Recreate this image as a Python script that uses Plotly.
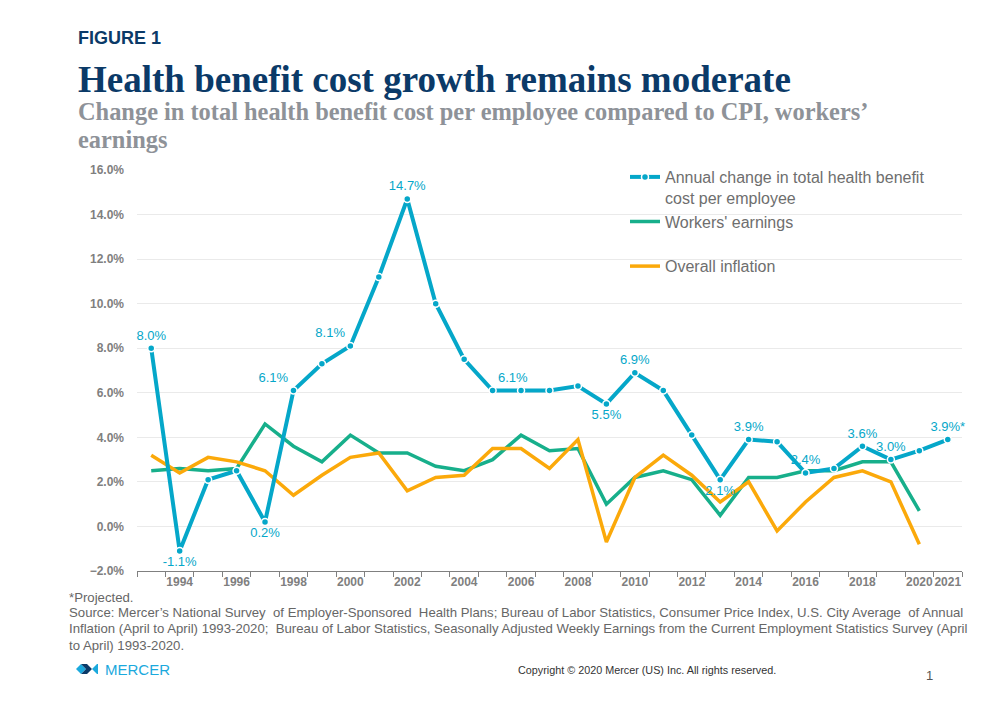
import plotly.graph_objects as go

# ---------------- data ----------------
years = [str(y) for y in range(1993, 2022)]
health_cost = [8.0, -1.1, 2.1, 2.5, 0.2, 6.1, 7.3, 8.1, 11.2, 14.7, 10.0, 7.5, 6.1, 6.1, 6.1,
               6.3, 5.5, 6.9, 6.1, 4.1, 2.1, 3.9, 3.8, 2.4, 2.6, 3.6, 3.0, 3.4, 3.9]
workers_earnings = [2.5, 2.6, 2.5, 2.6, 4.6, 3.6, 2.9, 4.1, 3.3, 3.3, 2.7, 2.5, 3.0, 4.1, 3.4,
                    3.5, 1.0, 2.2, 2.5, 2.1, 0.5, 2.2, 2.2, 2.5, 2.5, 2.9, 2.9, 0.7, None]
overall_inflation = [3.2, 2.4, 3.1, 2.9, 2.5, 1.4, 2.3, 3.1, 3.3, 1.6, 2.2, 2.3, 3.5, 3.5, 2.6,
                     3.9, -0.7, 2.2, 3.2, 2.3, 1.1, 2.0, -0.2, 1.1, 2.2, 2.5, 2.0, -0.8, None]
labelled_years = {"1993": "top center", "1994": "bottom center", "1997": "bottom center",
                  "1998": "top left", "2000": "top left", "2002": "top center",
                  "2005": "top right", "2009": "bottom center", "2010": "top center",
                  "2013": "bottom center", "2014": "top center", "2016": "top center",
                  "2018": "top center", "2019": "top center", "2021": "top center"}
projected_year = "2021"
x_tick_text = [y if (int(y) % 2 == 0 or y == "2021") else "" for y in years]

# ---------------- style ----------------
OFF = 8                      # browser body margin
W, H = 1000, 712
L, R, T, B = 129, 46, 162, 149
BLUE = "#05A7C9"
GREEN = "#17AF8B"
ORANGE = "#FBA90A"
NAVY = "#0B3A68"
GREY_SUB = "#8E9298"
TICK_GREY = "#7F7F7F"
SANS = "Liberation Sans, Arial, sans-serif"
SERIF = "Liberation Serif, Times New Roman, serif"


def px(x):
    return (x - OFF - L) / (W - L - R)


def py(y):
    return (H - B - (y - OFF)) / (H - T - B)


labels, positions = [], []
for y, v in zip(years, health_cost):
    if y in labelled_years:
        labels.append(f"{v:.1f}%" + ("*" if y == projected_year else ""))
        positions.append(labelled_years[y])
    else:
        labels.append("")
        positions.append("top center")

fig = go.Figure()
fig.add_trace(go.Scatter(
    x=years, y=workers_earnings, mode="lines", name="Workers' earnings<br>&nbsp;",
    line=dict(color=GREEN, width=3.5), legendrank=2, hoverinfo="skip"))
fig.add_trace(go.Scatter(
    x=years, y=overall_inflation, mode="lines", name="Overall inflation",
    line=dict(color=ORANGE, width=3.5), legendrank=3, hoverinfo="skip"))
fig.add_trace(go.Scatter(
    x=years, y=health_cost, mode="lines+markers+text",
    name="Annual change in total health benefit<br>cost per employee",
    line=dict(color=BLUE, width=4),
    marker=dict(size=7, color=BLUE, line=dict(color="white", width=1.5)),
    text=labels, textposition=positions, cliponaxis=False,
    textfont=dict(family=SANS, size=13, color=BLUE),
    legendrank=1, hoverinfo="skip"))

fig.update_layout(
    width=W, height=H,
    margin=dict(l=L, r=R, t=T, b=B),
    paper_bgcolor="white", plot_bgcolor="white",
    showlegend=True,
    legend=dict(x=px(625), y=py(160), xanchor="left", yanchor="top",
                bgcolor="rgba(0,0,0,0)", valign="top", itemwidth=30,
                traceorder="normal", tracegroupgap=0,
                font=dict(family=SANS, size=16, color="#6E6E6E")),
    xaxis=dict(type="category", range=[-0.5, len(years) - 0.5],
               tickmode="array", tickvals=years, ticktext=x_tick_text,
               tickson="boundaries", ticks="outside", ticklen=5, tickangle=0,
               tickcolor="#808080", showline=True, linecolor="#808080",
               linewidth=1, showgrid=False, zeroline=False,
               tickfont=dict(family=SANS, size=12, color=TICK_GREY, weight="bold")),
    yaxis=dict(range=[-2, 16], dtick=2, tickformat=".1f", ticksuffix="%",
               showgrid=True, gridcolor="#EAEAEA", gridwidth=1, zeroline=False,
               showline=False, ticks="", ticklabelstandoff=12,
               tickfont=dict(family=SANS, size=12, color=TICK_GREY, weight="bold")),
)

FOOT = "#666666"
FOOT_SIZE = 13.2
ann = [
    dict(text="<b>FIGURE 1</b>", x=px(76), y=py(38), xanchor="left", yanchor="middle",
         font=dict(family=SANS, size=18, color=NAVY)),
    dict(text="<b>Health benefit cost growth remains moderate</b>", x=px(76), y=py(79),
         xanchor="left", yanchor="middle", font=dict(family=SERIF, size=37, color=NAVY)),
    dict(text="<b>Change in total health benefit cost per employee compared to CPI, workers’</b>",
         x=px(76), y=py(112), xanchor="left", yanchor="middle",
         font=dict(family=SERIF, size=24.4, color=GREY_SUB)),
    dict(text="<b>earnings</b>", x=px(76), y=py(139), xanchor="left", yanchor="middle",
         font=dict(family=SERIF, size=24.4, color=GREY_SUB)),
    dict(text="*Projected.", x=px(67), y=py(597), xanchor="left", yanchor="middle",
         font=dict(family=SANS, size=FOOT_SIZE, color=FOOT)),
    dict(text="Source: Mercer’s National Survey  of Employer-Sponsored  Health Plans; Bureau of Labor Statistics, Consumer Price Index, U.S. City Average  of Annual",
         x=px(67), y=py(612), xanchor="left", yanchor="middle",
         font=dict(family=SANS, size=FOOT_SIZE, color=FOOT)),
    dict(text="Inflation (April to April) 1993-2020;  Bureau of Labor Statistics, Seasonally Adjusted Weekly Earnings from the Current Employment Statistics Survey (April",
         x=px(67), y=py(628), xanchor="left", yanchor="middle",
         font=dict(family=SANS, size=FOOT_SIZE, color=FOOT)),
    dict(text="to April) 1993-2020.", x=px(67), y=py(645), xanchor="left", yanchor="middle",
         font=dict(family=SANS, size=FOOT_SIZE, color=FOOT)),
    dict(text="MERCER", x=px(103), y=py(669), xanchor="left", yanchor="middle",
         font=dict(family=SANS, size=15, color="#1BA9DD")),
    dict(text="Copyright © 2020 Mercer (US) Inc. All rights reserved.", x=px(647), y=py(670),
         xanchor="center", yanchor="middle",
         font=dict(family=SANS, size=10.8, color="#333333")),
    dict(text="1", x=px(929), y=py(675), xanchor="center", yanchor="middle",
         font=dict(family=SANS, size=13, color="#555555")),
]
for a in ann:
    a.update(xref="paper", yref="paper", showarrow=False)
fig.update_layout(annotations=ann)


# small Mercer logo mark
def pth(points):
    return "M " + " L ".join(f"{px(x)},{py(y)}" for x, y in points) + " Z"


logo_shapes = [
    dict(type="path", path=pth([(76, 669), (81, 664), (86, 669), (81, 674)]), fillcolor="#1BA9DD"),
    dict(type="path", path=pth([(81, 664), (87, 664), (92, 669), (87, 674), (81, 674), (86, 669)]), fillcolor="#0B3A68"),
    dict(type="path", path=pth([(92, 669), (97, 664), (98, 664), (98, 674), (97, 674)]), fillcolor="#1BA9DD"),
]
for s in logo_shapes:
    s.update(xref="paper", yref="paper", line=dict(width=0), layer="above")
fig.update_layout(shapes=logo_shapes)

fig.write_html("out.html")
